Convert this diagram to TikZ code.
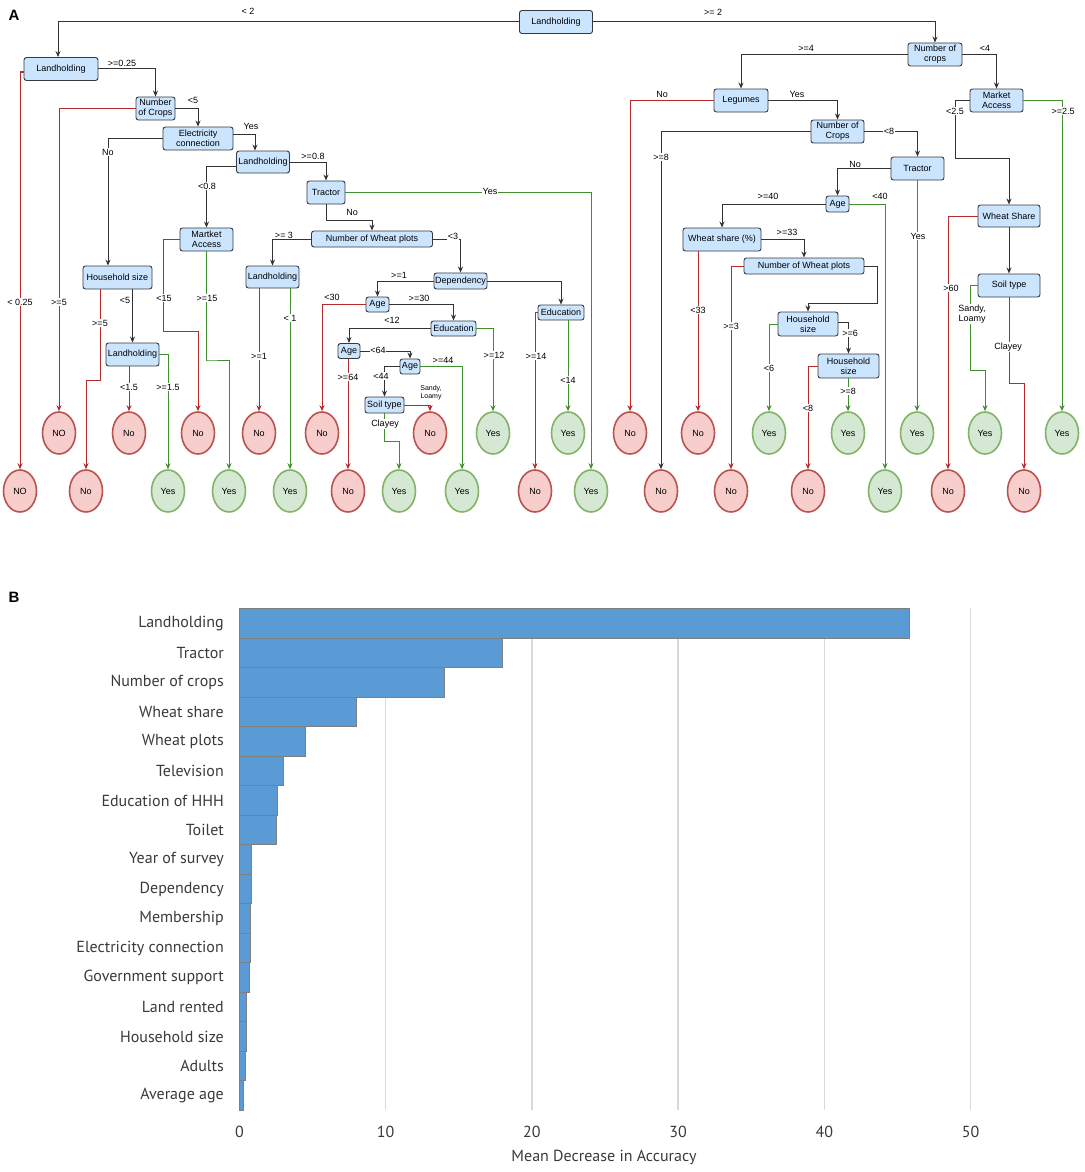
\documentclass[tikz,border=0pt]{standalone}
\usepackage{fontspec}
\setmainfont{Liberation Sans}
\newfontfamily\barfont{PT Sans}
\usetikzlibrary{arrows.meta,shapes.geometric,calc}
\definecolor{boxF}{HTML}{CCE5FF}
\definecolor{boxB}{HTML}{36393D}
\definecolor{noF}{HTML}{F8CECC}
\definecolor{noB}{HTML}{B85450}
\definecolor{yesF}{HTML}{D5E8D4}
\definecolor{yesB}{HTML}{82B366}
\definecolor{lnK}{HTML}{333333}
\definecolor{lnR}{HTML}{B52A2A}
\definecolor{lnG}{HTML}{3F8F2F}
\definecolor{barF}{HTML}{5B9BD5}
\definecolor{barB}{HTML}{7F7F7F}
\definecolor{gridC}{HTML}{D9D9D9}
\definecolor{txtC}{HTML}{3A3A3A}
\newcommand\tsz{\fontsize{9pt}{10pt}\selectfont}
\newcommand\ssz{\fontsize{7pt}{8pt}\selectfont}
\newcommand\bsz{\barfont\fontsize{16pt}{18pt}\selectfont}
\tikzset{
 dbox/.style={rectangle, draw=boxB, fill=boxF, rounded corners=2.5pt, line width=0.9pt, inner sep=0pt, align=center, font=\tsz},
 lno/.style={ellipse, draw=noB, fill=noF, line width=1.6pt, minimum width=33pt, minimum height=42pt, inner sep=0pt, font=\tsz},
 lyes/.style={ellipse, draw=yesB, fill=yesF, line width=1.6pt, minimum width=33pt, minimum height=42pt, inner sep=0pt, font=\tsz},
 ek/.style={draw=lnK, line width=1pt, -{Stealth[length=6pt,width=5pt]}},
 er/.style={draw=lnR, line width=1pt, -{Stealth[length=6pt,width=5pt]}},
 eg/.style={draw=lnG, line width=1pt, -{Stealth[length=6pt,width=5pt]}},
 lbl/.style={fill=white, inner sep=0.6pt, font=\tsz, align=center},
 slbl/.style={fill=white, inner sep=0.4pt, font=\ssz, align=center},
 bx/.style n args={2}{minimum width=#1pt, minimum height=#2pt},
}
\begin{document}
\begin{tikzpicture}[x=1pt,y=-1pt]
\useasboundingbox (0,0) rectangle (1084,1172);
% panel labels
\node[font=\fontsize{15pt}{15pt}\selectfont\bfseries] (pA) at (14,15) {A};
\node[font=\fontsize{15pt}{15pt}\selectfont\bfseries] (pB) at (14,597) {B};

% ---------- decision nodes ----------
\node[dbox,bx={73}{23}] (R) at (556,22) {Landholding};
\node[dbox,bx={74}{23}] (L1) at (61,69) {Landholding};
\node[dbox,bx={39}{23}] (NC1) at (155.5,108.5) {Number\\of Crops};
\node[dbox,bx={70}{23}] (EC) at (198,138.5) {Electricity\\connection};
\node[dbox,bx={53}{22}] (L2) at (263,162) {Landholding};
\node[dbox,bx={38}{23}] (T1) at (326,192.5) {Tractor};
\node[dbox,bx={53}{23}] (MA1) at (206.5,239.5) {Martket\\Access};
\node[dbox,bx={121}{16}] (NWP1) at (372,239) {Number of Wheat plots};
\node[dbox,bx={53}{22}] (L3) at (272.5,277) {Landholding};
\node[dbox,bx={53}{16}] (Dep) at (460.5,281) {Dependency};
\node[dbox,bx={23}{15}] (A1) at (377.5,304.5) {Age};
\node[dbox,bx={45}{15}] (Ed1) at (453.5,328.5) {Education};
\node[dbox,bx={22}{15}] (A2) at (349,351) {Age};
\node[dbox,bx={20}{15}] (A3) at (410,366.5) {Age};
\node[dbox,bx={39}{16}] (S1) at (384.5,405) {Soil type};
\node[dbox,bx={46}{15}] (Ed2) at (561,312.5) {Education};
\node[dbox,bx={69}{23}] (HS1) at (117.5,277.5) {Household size};
\node[dbox,bx={53}{23}] (L4) at (132.5,354.5) {Landholding};

\node[dbox,bx={54}{23}] (NC2) at (935,54.5) {Number of\\crops};
\node[dbox,bx={54}{23}] (Leg) at (741,100.5) {Legumes};
\node[dbox,bx={53}{23}] (NC3) at (837.5,131.5) {Number of\\Crops};
\node[dbox,bx={53}{23}] (T2) at (917.5,168.5) {Tractor};
\node[dbox,bx={23}{16}] (A4) at (837.5,204) {Age};
\node[dbox,bx={78}{23}] (WSP) at (722,239.5) {Wheat share (\%)};
\node[dbox,bx={120}{16}] (NWP2) at (804,266) {Number of Wheat plots};
\node[dbox,bx={60}{24}] (HS2) at (808,324) {Household\\size};
\node[dbox,bx={61}{24}] (HS3) at (848.5,366) {Household\\size};
\node[dbox,bx={53}{23}] (MA2) at (996.5,100.5) {Market\\Access};
\node[dbox,bx={62}{22}] (WS) at (1009,216) {Wheat Share};
\node[dbox,bx={62}{23}] (S2) at (1009,285.5) {Soil type};

% ---------- leaves ----------
\node[lno] (nA) at (59,433) {NO};
\node[lno] (nB) at (129,433) {No};
\node[lno] (nC) at (198,433) {No};
\node[lno] (nD) at (259,433) {No};
\node[lno] (nE) at (322,433) {No};
\node[lno] (nF) at (430,433) {No};
\node[lyes] (yA) at (493,433) {Yes};
\node[lyes] (yB) at (568,433) {Yes};
\node[lno] (rnA) at (630,433) {No};
\node[lno] (rnB) at (698,433) {No};
\node[lyes] (ryA) at (769,433) {Yes};
\node[lyes] (ryB) at (848,433) {Yes};
\node[lyes] (ryC) at (917,433) {Yes};
\node[lyes] (ryD) at (985,433) {Yes};
\node[lyes] (ryE) at (1062,433) {Yes};

\node[lno] (bnA) at (20,491) {NO};
\node[lno] (bnB) at (86,491) {No};
\node[lyes] (byA) at (168,491) {Yes};
\node[lyes] (byB) at (229,491) {Yes};
\node[lyes] (byC) at (290,491) {Yes};
\node[lno] (bnC) at (348,491) {No};
\node[lyes] (byD) at (399,491) {Yes};
\node[lyes] (byE) at (462,491) {Yes};
\node[lno] (bnD) at (535,491) {No};
\node[lyes] (byF) at (591,491) {Yes};
\node[lno] (rbnA) at (661,491) {No};
\node[lno] (rbnB) at (731,491) {No};
\node[lno] (rbnC) at (808,491) {No};
\node[lyes] (rbyA) at (885,491) {Yes};
\node[lno] (rbnD) at (948,491) {No};
\node[lno] (rbnE) at (1024,491) {No};

% ---------- bend coordinates ----------
\coordinate (t1k) at (372,220);
\coordinate (s1k) at (399,441);
\coordinate (ma1k) at (163,331);
\coordinate (ma1g) at (206,360);
\coordinate (hs1r) at (100,380);
\coordinate (n2k) at (877,303);
\coordinate (ma2k) at (955,158);
\coordinate (s2g) at (970,370);
\coordinate (s2r) at (1024,383);

% ---------- connectors: left ----------
\draw[ek] (R.west) -| ([xshift=-3pt]L1.north);
\draw[ek] (R.east) -| (NC2.north);
\draw[ek] (L1.east) -| (NC1.north);
\draw[er] ([yshift=-3pt]L1.west) -| (bnA.north);
\draw[er] (NC1.west) -| (nA.north);
\draw[ek] (NC1.east) -| (EC.north);
\draw[ek] ([yshift=4pt]EC.east) -| ([xshift=-8pt]L2.north);
\draw[ek] (EC.west) -| ([xshift=-9.5pt]HS1.north);
\draw[ek] (L2.east) -| (T1.north);
\draw[ek] ([yshift=-4pt]L2.west) -| (MA1.north);
\draw[ek] (T1.south) |- (t1k) -- (NWP1.north);
\draw[eg] (T1.east) -| (byF.north);
\draw[ek] (NWP1.west) -| (L3.north);
\draw[ek] (NWP1.east) -| (Dep.north);
\draw[er] (nD.north |- L3.south) -- (nD.north);
\draw[eg] (byC.north |- L3.south) -- (byC.north);
\draw[ek] (Dep.west) -| (A1.north);
\draw[ek] (Dep.east) -| (Ed2.north);
\draw[er] (A1.west) -| (nE.north);
\draw[ek] (A1.east) -| (Ed1.north);
\draw[ek] (Ed1.west) -| (A2.north);
\draw[eg] (Ed1.east) -| (yA.north);
\draw[ek] (A2.east) -| (A3.north);
\draw[er] (bnC.north |- A2.south) -- (bnC.north);
\draw[ek] (A3.west) -| (S1.north);
\draw[eg] (A3.east) -| (byE.north);
\draw[er] (S1.east) -| (nF.north);
\draw[eg] (S1.south) |- (s1k) -- (byD.north);
\draw[er] (Ed2.west) -| (bnD.north);
\draw[eg] (yB.north |- Ed2.south) -- (yB.north);
\draw[er] (MA1.west) -| (ma1k) -| (nC.north);
\draw[eg] (MA1.south) |- (ma1g) -| (byB.north);
\draw[er] (hs1r |- HS1.south) -- (hs1r) -| (bnB.north);
\draw[ek] (L4.north |- HS1.south) -- (L4.north);
\draw[er] (nB.north |- L4.south) -- (nB.north);
\draw[eg] (L4.east) -| (byA.north);

% ---------- connectors: right ----------
\draw[ek] (NC2.west) -| (Leg.north);
\draw[ek] (NC2.east) -| (MA2.north);
\draw[er] (Leg.west) -| (rnA.north);
\draw[ek] (Leg.east) -| (NC3.north);
\draw[ek] (NC3.west) -| (rbnA.north);
\draw[ek] (NC3.east) -| (T2.north);
\draw[ek] (T2.west) -| (A4.north);
\draw[eg] (ryC.north |- T2.south) -- (ryC.north);
\draw[ek] (A4.west) -| (WSP.north);
\draw[eg] (A4.east) -| (rbyA.north);
\draw[er] (rnB.north |- WSP.south) -- (rnB.north);
\draw[ek] (WSP.east) -| (NWP2.north);
\draw[er] (NWP2.west) -| (rbnB.north);
\draw[ek] (NWP2.east) -| (n2k) -| (HS2.north);
\draw[eg] (HS2.west) -| (ryA.north);
\draw[ek] ([yshift=2pt]HS2.east) -| (HS3.north);
\draw[er] (HS3.west) -| (rbnC.north);
\draw[eg] (ryB.north |- HS3.south) -- (ryB.north);
\draw[ek] (MA2.west) -| (ma2k) -| (WS.north);
\draw[eg] (MA2.east) -| (ryE.north);
\draw[er] (WS.west) -| (rbnD.north);
\draw[ek] (WS.south) -- (S2.north);
\draw[eg] (S2.west) -| (s2g) -| (ryD.north);
\draw[er] (S2.south) |- (s2r) -- (rbnE.north);

% ---------- edge labels ----------
\node[lbl] (e1) at (248,11) {< 2};
\node[lbl] (e2) at (713,12) {>= 2};
\node[lbl] (e3) at (122,63) {>=0.25};
\node[lbl] (e4) at (20,302) {< 0.25};
\node[lbl] (e5) at (59,302) {>=5};
\node[lbl] (e6) at (193,100) {<5};
\node[lbl] (e7) at (251,126) {Yes};
\node[lbl] (e8) at (108,152) {No};
\node[lbl] (e9) at (313,156) {>=0.8};
\node[lbl] (e10) at (207,186) {<0.8};
\node[lbl] (e11) at (352,212) {No};
\node[lbl] (e12) at (490,191) {Yes};
\node[lbl] (e13) at (284,235) {>= 3};
\node[lbl] (e14) at (453,236) {<3};
\node[lbl] (e15) at (259,356) {>=1};
\node[lbl] (e16) at (290,318) {< 1};
\node[lbl] (e17) at (399,275) {>=1};
\node[lbl] (e18) at (332,297) {<30};
\node[lbl] (e19) at (419,298) {>=30};
\node[lbl] (e20) at (392,320) {<12};
\node[lbl] (e21) at (494,355) {>=12};
\node[lbl] (e22) at (378,350) {<64};
\node[lbl] (e23) at (348,377) {>=64};
\node[lbl] (e24) at (381,376) {<44};
\node[lbl] (e25) at (443,360) {>=44};
\node[slbl] (e26) at (431,393) {Sandy,\\Loamy};
\node[lbl] (e27) at (385,424) {Clayey};
\node[lbl] (e28) at (536,356) {>=14};
\node[lbl] (e29) at (568,380) {<14};
\node[lbl] (e30) at (164,298) {<15};
\node[lbl] (e31) at (207,298) {>=15};
\node[lbl] (e32) at (100,323) {>=5};
\node[lbl] (e33) at (125,300) {<5};
\node[lbl] (e34) at (129,387) {<1.5};
\node[lbl] (e35) at (168,387) {>=1.5};
\node[lbl] (e36) at (806,48) {>=4};
\node[lbl] (e37) at (985,48) {<4};
\node[lbl] (e38) at (662,94) {No};
\node[lbl] (e39) at (797,94) {Yes};
\node[lbl] (e40) at (661,157) {>=8};
\node[lbl] (e41) at (889,131) {<8};
\node[lbl] (e42) at (855,164) {No};
\node[lbl] (e43) at (918,236) {Yes};
\node[lbl] (e44) at (768,196) {>=40};
\node[lbl] (e45) at (880,196) {<40};
\node[lbl] (e46) at (698,310) {<33};
\node[lbl] (e47) at (787,232) {>=33};
\node[lbl] (e48) at (731,326) {>=3};
\node[lbl] (e49) at (769,368) {<6};
\node[lbl] (e50) at (850,333) {>=6};
\node[lbl] (e51) at (808,408) {<8};
\node[lbl] (e52) at (848,391) {>=8};
\node[lbl] (e53) at (955,111) {<2.5};
\node[lbl] (e54) at (1063,111) {>=2.5};
\node[lbl] (e55) at (951,288) {>60};
\node[lbl] (e56) at (972,314) {Sandy,\\Loamy};
\node[lbl] (e57) at (1008,347) {Clayey};

% ---------- bar chart ----------
\foreach \t in {10,20,30,40,50} {
  \draw[gridC, line width=1.3pt] (239.5+14.62*\t,608) -- (239.5+14.62*\t,1110);
  \node[font=\bsz, text=txtC] (tk\t) at (239.5+14.62*\t,1132) {\t};
}
\node[font=\bsz, text=txtC] (tk0) at (239.5,1132) {0};
\draw[barB, line width=0.8pt] (239.5,608) -- (239.5,1110);
\foreach \v/\n [count=\i from 0] in {45.8/Landholding, 18/Tractor, 14/Number of crops, 8/Wheat share, 4.5/Wheat plots, 3/Television, 2.6/Education of HHH, 2.5/Toilet, 0.8/Year of survey, 0.8/Dependency, 0.75/Membership, 0.75/Electricity connection, 0.65/Government support, 0.5/Land rented, 0.48/Household size, 0.42/Adults, 0.25/Average age} {
  \pgfmathsetmacro\yt{608.5+29.5*\i}
  \pgfmathsetmacro\xe{239.5+14.62*\v}
  \draw[fill=barF, draw=barB, line width=0.7pt] (239.5,\yt) rectangle (\xe,\yt+29.5);
  \node[anchor=east, font=\bsz, text=txtC, inner sep=0pt] (bl\i) at (224,\yt+15) {\n};
}
\node[font=\bsz, text=txtC] (xt) at (604,1157) {Mean Decrease in Accuracy};
\end{tikzpicture}
\end{document}
